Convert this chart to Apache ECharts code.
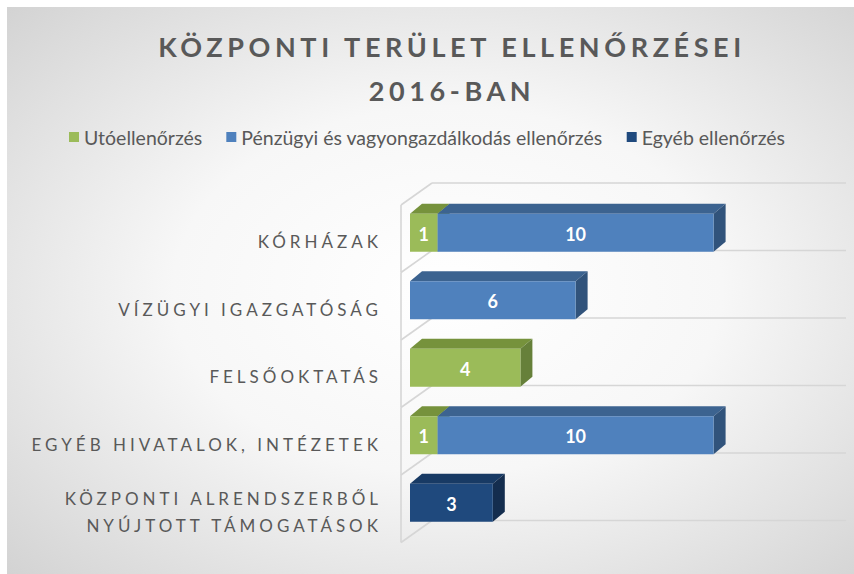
<!DOCTYPE html>
<html lang="hu">
<head>
  <meta charset="utf-8">
  <title>Központi terület ellenőrzései 2016-ban</title>
  <style>
    html, body { margin: 0; height: 100%; background: #fff; }
  </style>
</head>
<body>
  <div id="chart_div" style="width: 854px; height: 574px;"></div>

  <script src="https://cdn.jsdelivr.net/npm/echarts@6.0.0/dist/echarts.min.js"></script>
  <script>
    // chart data
    var categories = ['KÓRHÁZAK', 'VÍZÜGYI IGAZGATÓSÁG', 'FELSŐOKTATÁS', 'EGYÉB HIVATALOK, INTÉZETEK', 'KÖZPONTI ALRENDSZERBŐL\nNYÚJTOTT TÁMOGATÁSOK'];
    var seriesNames = ['Utóellenőrzés', 'Pénzügyi és vagyongazdálkodás ellenőrzés', 'Egyéb ellenőrzés'];
    var utoellenorzes = [1, 0, 4, 1, 0];
    var penzugyi = [10, 6, 0, 10, 0];
    var egyeb = [0, 0, 0, 0, 3];
    var titleText = 'KÖZPONTI TERÜLET ELLENŐRZÉSEI\n2016-BAN';

    var colors = [
      { front: '#9bbb59', top: '#76923c', side: '#66803a' },
      { front: '#4f81bd', top: '#3c6390', side: '#31537b' },
      { front: '#1f497d', top: '#183a64', side: '#142d4e' }
    ];
    var font = 'Lato, "Open Sans", sans-serif';

    var dom = document.getElementById('chart_div');
    var myChart = echarts.init(dom, null, { renderer: 'svg' });

    // stacked start/end for each series
    var values = [utoellenorzes, penzugyi, egyeb];
    var stackData = [[], [], []];
    categories.forEach(function (c, i) {
      var sum = 0;
      values.forEach(function (arr, s) {
        if (arr[i] > 0) {
          stackData[s].push([i, sum, sum + arr[i]]);
        }
        sum += arr[i];
      });
    });

    function barItem(col) {
      return function (params, api) {
        var cat = api.value(0);
        var a = api.coord([api.value(1), cat]);
        var b = api.coord([api.value(2), cat]);
        var h = 38, dx = 12, dy = 10;
        var x0 = a[0], x1 = b[0];
        var yt = a[1] - h / 2, yb = a[1] + h / 2;
        return {
          type: 'group',
          children: [
            { type: 'polygon', shape: { points: [[x0, yt], [x1, yt], [x1 + dx, yt - dy], [x0 + dx, yt - dy]] }, style: { fill: col.top } },
            { type: 'polygon', shape: { points: [[x1, yt], [x1 + dx, yt - dy], [x1 + dx, yb - dy], [x1, yb]] }, style: { fill: col.side } },
            { type: 'rect', shape: { x: x0, y: yt, width: x1 - x0, height: h }, style: { fill: col.front } },
            {
              type: 'text',
              style: {
                text: String(api.value(2) - api.value(1)),
                x: (x0 + x1) / 2, y: a[1] + 1,
                fill: '#fff', font: 'bold 18px ' + font,
                align: 'center', verticalAlign: 'middle'
              }
            }
          ]
        };
      };
    }

    // walls: diagonal lines on the left side and lines along the back
    function wallItem(params, api) {
      var i = api.value(1);
      var c = api.coord([0, i]);
      var r = api.coord([15, i]);
      var band = api.size([0, 1])[1];
      var yt = c[1] - band / 2, yb = c[1] + band / 2;
      var dx = -31, dy = 22;
      var st = { stroke: '#d6d6d6', lineWidth: 1.6 };
      var ch = [
        { type: 'line', shape: { x1: c[0], y1: yt, x2: r[0], y2: yt }, style: st },
        { type: 'line', shape: { x1: c[0], y1: yt, x2: c[0] + dx, y2: yt + dy }, style: st },
        { type: 'line', shape: { x1: c[0] + dx, y1: yt + dy, x2: c[0] + dx, y2: yb + dy }, style: st }
      ];
      if (i === categories.length - 1) {
        ch.push({ type: 'line', shape: { x1: c[0], y1: yb, x2: r[0], y2: yb }, style: st });
        ch.push({ type: 'line', shape: { x1: c[0], y1: yb, x2: c[0] + dx, y2: yb + dy }, style: st });
      }
      return { type: 'group', children: ch };
    }

    var option = {
      animation: false,
      backgroundColor: '#fff',
      graphic: [{
        type: 'rect',
        z: -10,
        silent: true,
        shape: { x: 7, y: 7, width: 847, height: 567 },
        style: {
          fill: new echarts.graphic.RadialGradient(0.52, 0.5, 0.72, [
            { offset: 0, color: '#ffffff' },
            { offset: 0.45, color: '#f7f7f7' },
            { offset: 1, color: '#d3d3d3' }
          ])
        }
      }],
      title: {
        text: titleText,
        left: 447,
        top: 19,
        textAlign: 'center',
        textStyle: { fontFamily: font, fontSize: 27, fontWeight: 'bold', color: '#595959', lineHeight: 44 }
      },
      legend: {
        top: 122,
        left: 'center',
        icon: 'rect',
        itemWidth: 10,
        itemHeight: 10,
        itemGap: 24,
        data: seriesNames,
        textStyle: { fontFamily: font, fontSize: 19.5, color: '#595959' }
      },
      grid: [
        { left: 410, top: 199, width: 414, height: 337.5 },
        { left: 432, top: 183, width: 414, height: 337.5 },
        { left: 410, top: 208, width: 414, height: 337.5 }
      ],
      xAxis: [
        { type: 'value', gridIndex: 0, min: 0, max: 15, show: false },
        { type: 'value', gridIndex: 1, min: 0, max: 15, show: false },
        { type: 'value', gridIndex: 2, min: 0, max: 15, show: false }
      ],
      yAxis: [
        { type: 'category', gridIndex: 0, inverse: true, data: categories, show: false },
        { type: 'category', gridIndex: 1, inverse: true, data: categories, show: false },
        {
          type: 'category', gridIndex: 2, inverse: true, data: categories,
          axisLine: { show: false }, axisTick: { show: false }, splitLine: { show: false },
          axisLabel: {
            margin: 28,
            fontFamily: font, fontSize: 17, color: '#595959', lineHeight: 27
          }
        }
      ],
      series: [
        {
          type: 'custom', name: 'wall', xAxisIndex: 1, yAxisIndex: 1, silent: true, z: 1,
          renderItem: wallItem,
          encode: { x: 0, y: 1 },
          data: categories.map(function (c, i) { return [0, i]; })
        },
        {
          type: 'custom', name: seriesNames[0], itemStyle: { color: colors[0].front },
          renderItem: barItem(colors[0]), encode: { x: [1, 2], y: 0 }, data: stackData[0]
        },
        {
          type: 'custom', name: seriesNames[1], itemStyle: { color: colors[1].front },
          renderItem: barItem(colors[1]), encode: { x: [1, 2], y: 0 }, data: stackData[1]
        },
        {
          type: 'custom', name: seriesNames[2], itemStyle: { color: colors[2].front },
          renderItem: barItem(colors[2]), encode: { x: [1, 2], y: 0 }, data: stackData[2]
        }
      ]
    };
    myChart.setOption(option);

    // wide tracking for the title and the category labels
    var spaced = {};
    titleText.split('\n').forEach(function (t) { spaced[t] = '4.6px'; });
    categories.forEach(function (c) {
      c.split('\n').forEach(function (t) { spaced[t] = '4px'; });
    });
    function applySpacing() {
      dom.querySelectorAll('text').forEach(function (el) {
        var t = el.textContent;
        if (spaced[t]) el.style.letterSpacing = spaced[t];
      });
    }
    myChart.on('finished', applySpacing);
    setTimeout(applySpacing, 50);
  </script>
</body>
</html>
